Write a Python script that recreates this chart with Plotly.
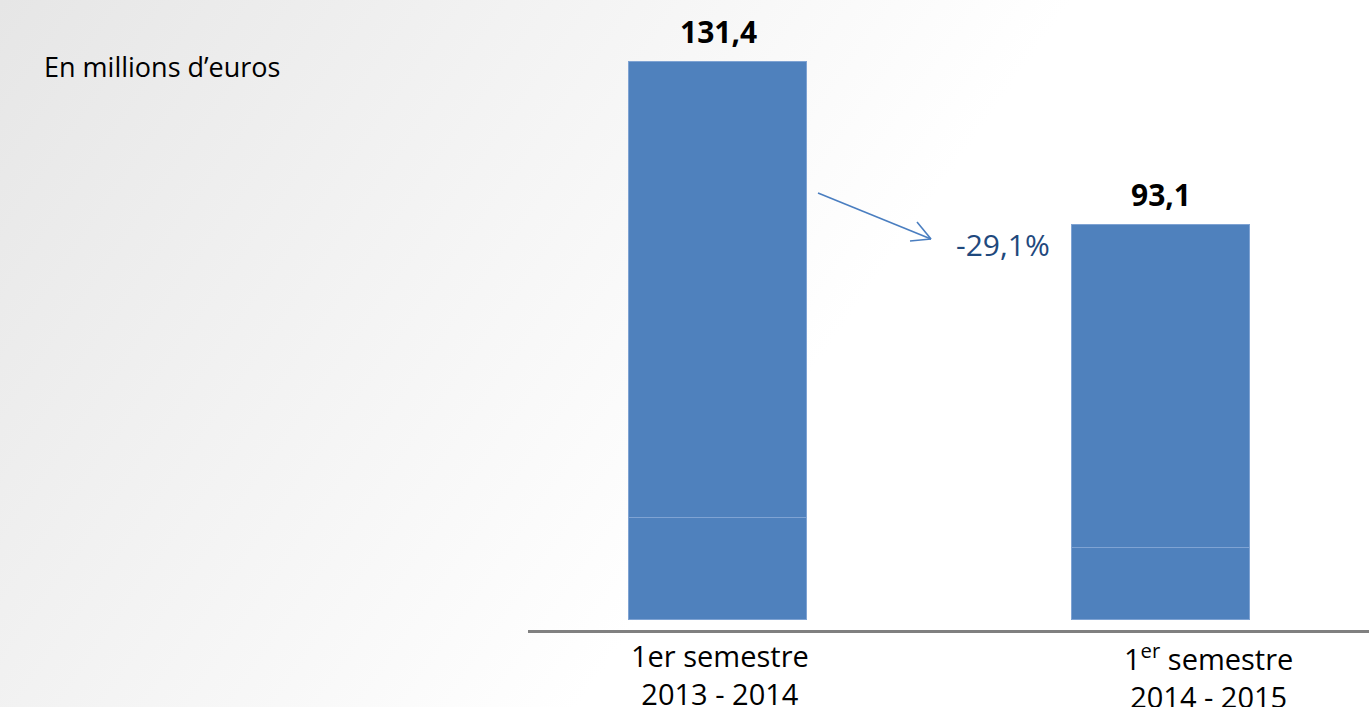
import base64
import plotly.graph_objects as go

# ---- data ----
categories = ["1er semestre<br>2013 - 2014", "1<sup>er</sup> semestre<br>2014 - 2015"]
lower_values = [24.0, 17.0]
upper_values = [107.4, 76.1]
total_labels = ["131,4", "93,1"]
change_label = "-29,1%"
unit_label = "En millions d’euros"

totals = [a + b for a, b in zip(lower_values, upper_values)]
x_idx = list(range(len(categories)))

W, H = 1369, 707
L, R, T, B = 528, 0, 0, 77
PW, PH = W - L - R, H - T - B


def px(xp):
    return (xp - L) / PW


def py(yp):
    return (H - B - yp) / PH


BAR = "#4F81BD"
EDGE = "#7FA3D3"
FONT = "Open Sans"

fig = go.Figure()
for vals in (lower_values, upper_values):
    fig.add_trace(go.Bar(
        x=x_idx, y=vals, width=0.4,
        marker=dict(color=BAR, line=dict(color=EDGE, width=1)),
        hoverinfo="skip", showlegend=False,
    ))

annotations = []
for i, (t, lab) in enumerate(zip(totals, total_labels)):
    annotations.append(dict(
        x=i, y=t, xref="x", yref="y", text=lab, showarrow=False,
        yanchor="bottom", yshift=8,
        font=dict(family=FONT, size=30, color="black", weight="bold"),
    ))

cat_shift = [2, 47]
for i, (c, s) in enumerate(zip(categories, cat_shift)):
    annotations.append(dict(
        x=i, y=0, xref="x", yref="paper", text=c, showarrow=False,
        yanchor="top", xshift=s, yshift=-4,
        font=dict(family=FONT, size=29, color="black"),
    ))

annotations.append(dict(
    x=px(1003), y=py(245), xref="paper", yref="paper", text=change_label,
    showarrow=False, xanchor="center", yanchor="middle",
    font=dict(family=FONT, size=30, color="#1F497D"),
))
annotations.append(dict(
    x=px(42), y=py(67), xref="paper", yref="paper", text=unit_label,
    showarrow=False, xanchor="left", yanchor="middle",
    font=dict(family=FONT, size=27, color="black"),
))

ARROW = "#4A7EC0"
shapes = [
    dict(type="line", xref="paper", yref="paper",
         x0=px(818), y0=py(193), x1=px(931), y1=py(239),
         line=dict(color=ARROW, width=1.6)),
    dict(type="line", xref="paper", yref="paper",
         x0=px(931), y0=py(239), x1=px(917), y1=py(222),
         line=dict(color=ARROW, width=1.6)),
    dict(type="line", xref="paper", yref="paper",
         x0=px(931), y0=py(239), x1=px(910), y1=py(241),
         line=dict(color=ARROW, width=1.6)),
]

svg = (
    f"<svg xmlns='http://www.w3.org/2000/svg' width='{W}' height='{H}' "
    f"viewBox='0 0 {W} {H}' preserveAspectRatio='none'>"
    "<defs><linearGradient id='g' gradientUnits='userSpaceOnUse' "
    "x1='0' y1='0' x2='1000' y2='700'>"
    "<stop offset='0' stop-color='#E6E6E6'/>"
    "<stop offset='0.72' stop-color='#FFFFFF'/>"
    "<stop offset='1' stop-color='#FFFFFF'/>"
    "</linearGradient></defs>"
    f"<rect x='0' y='0' width='{W}' height='{H}' fill='url(#g)'/></svg>"
)
src = "data:image/svg+xml;base64," + base64.b64encode(svg.encode()).decode()

fig.update_layout(
    width=W, height=H,
    margin=dict(l=L, r=R, t=T, b=B, pad=0),
    barmode="stack",
    paper_bgcolor="white",
    plot_bgcolor="rgba(0,0,0,0)",
    bargap=0,
    xaxis=dict(range=[-190 / 443, -190 / 443 + PW / 443], showgrid=False,
               zeroline=False, showticklabels=False, ticks="",
               showline=True, linecolor="#808080", linewidth=3, fixedrange=True),
    yaxis=dict(range=[-10 / 4.2466, 620 / 4.2466], visible=False, fixedrange=True),
    annotations=annotations,
    shapes=shapes,
    images=[dict(source=src, xref="paper", yref="paper",
                 x=px(0), y=py(0), sizex=W / PW, sizey=H / PH,
                 xanchor="left", yanchor="top", sizing="stretch", layer="below")],
    showlegend=False,
)

post = ("document.body.style.margin='0';document.body.style.padding='0';"
        "document.body.style.overflow='hidden';")
fig.write_html("out.html", config={"displayModeBar": False}, post_script=post)
